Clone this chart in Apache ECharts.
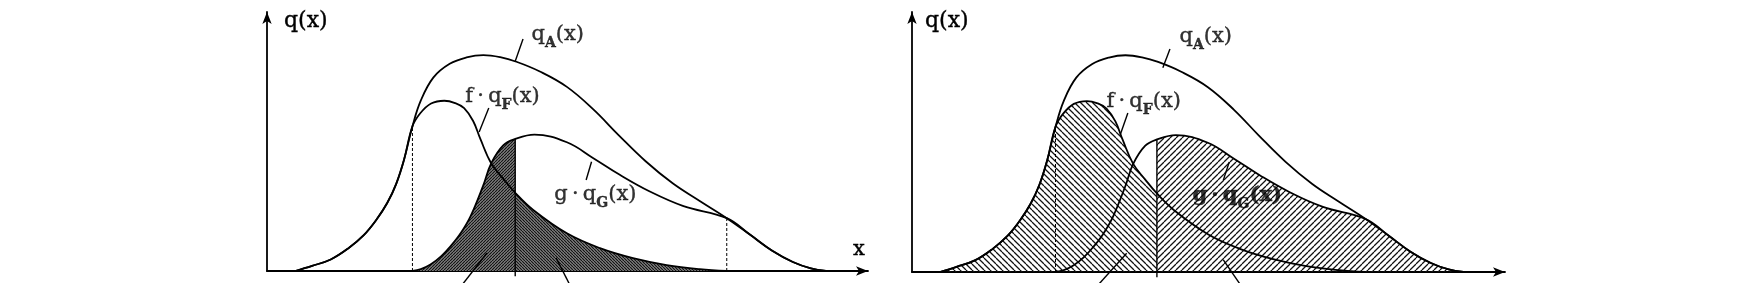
<!DOCTYPE html>
<html>
<head>
<meta charset="utf-8">
<script src="https://cdn.jsdelivr.net/npm/echarts@6/dist/echarts.min.js"></script>
<style>
  html, body { margin: 0; padding: 0; background: #fff; }
  #chart { width: 1737px; height: 283px; }
</style>
</head>
<body>
<div id="chart"></div>
<script>
// ---- data (x: 0..100 along the axis, y: 0..101 up the axis) ----
const qA = [[4.7,0],[7.5,2.0],[10.6,4.5],[13.5,8.8],[16.1,14.0],[18.2,20.0],[20.0,26.5],[21.5,34.0],[22.8,43.4],[24.2,56.4],[25.6,66.5],[27.7,75.5],[30.4,80.8],[33.2,83.3],[36.0,84.2],[38.8,83.4],[41.5,81.6],[45.4,77.8],[49.9,71.8],[54.3,63.0],[58.5,53.0],[63.0,42.8],[67.5,34.2],[72.0,27.3],[76.5,20.6],[80.4,14.1],[84.0,8.0],[87.5,3.5],[90.5,1.0],[93.0,0]];
const fqF = [[4.7,0],[7.5,2.0],[10.6,4.5],[13.5,8.8],[16.1,14.0],[18.2,20.0],[20.0,26.5],[21.5,34.0],[22.8,43.4],[24.2,56.4],[25.5,61.5],[27.3,65.3],[29.5,66.4],[31.3,65.5],[32.8,63.5],[34.3,58.5],[35.5,51.5],[37.3,42.0],[39.3,36.0],[41.3,30.5],[44.3,23.8],[49.9,14.7],[55.4,8.9],[60.9,5.0],[66.5,2.3],[72.0,0.7],[76.5,0]];
const gqG = [[24.2,0],[25.6,0.7],[27.2,2.5],[29.0,5.8],[30.6,9.8],[32.3,15.0],[33.9,21.5],[36.0,33.5],[37.3,42.0],[39.3,49.0],[41.3,51.5],[44.5,53.2],[49.9,50.2],[54.3,44.0],[58.7,37.5],[63.7,31.0],[69.3,25.3],[76.5,20.6],[80.4,14.1],[84.0,8.0],[87.5,3.5],[90.5,1.0],[93.0,0]];
const threshold = 41.3;          // decision boundary (solid line)
const cuts = [24.2, 76.5];       // dashed lines: where qG starts and qF stops

// annotation texts and anchors (data coordinates)
const labelText = ['{m|q}{s|A}{m|(x)}', '{m|f\u2009·\u2009q}{s|F}{m|(x)}', '{m|g\u2009·\u2009q}{s|G}{m|(x)}'];
const labelTextBoldG = '{mb|g\u2009·\u2009q}{sb|G}{mb|(x)}';
const labelPosL = [[44.0,92.3],[33.0,68.1],[47.8,29.9]];
const labelPosR = [[45.1,91.5],[32.8,66.3],[47.3,29.8]];
const leadersL = [[[42.6,90.5],[41.3,81.8]],[[36.9,63.6],[35.3,54.2]],[[54.0,42.6],[53.1,35.5]],[[36.6,7.0],[32.6,-5]],[[48.1,5.1],[50.3,-5]]];
const leadersR = [[[43.5,86.6],[42.3,79.3]],[[36.4,61.8],[35.1,53.2]],[[53.5,42.7],[52.5,35.7]],[[36.2,7.3],[31.4,-5]],[[52.5,4.7],[55.4,-5]]];
const axisNameX = 'x';
const axisNameY = 'q(x)';

// ---- helpers ----
const FONT = 'DejaVu Serif';
function yAt(arr, x) { const p = arr.find(d => d[0] === x); return p ? p[1] : 0; }
function hatch(size, dir, bg, fg, lw) {
  const c = document.createElement('canvas');
  c.width = c.height = size;
  const g = c.getContext('2d');
  if (bg) { g.fillStyle = bg; g.fillRect(0, 0, size, size); }
  g.strokeStyle = fg; g.lineWidth = lw;
  g.beginPath();
  for (let k = -1; k <= 1; k++) {
    if (dir > 0) { g.moveTo(k * size, size); g.lineTo(k * size + size, 0); }
    else { g.moveTo(k * size, 0); g.lineTo(k * size + size, size); }
  }
  g.stroke();
  return c;
}
const darkSlash = { image: hatch(3, 1, '#8c8c8c', '#111', 1.2), repeat: 'repeat' };
const darkBack  = { image: hatch(3, -1, '#8c8c8c', '#111', 1.2), repeat: 'repeat' };
const openBack  = { image: hatch(6, -1, null, '#111', 1.25), repeat: 'repeat' };
const openSlash = { image: hatch(6, 1, null, '#111', 1.25), repeat: 'repeat' };

const ink = { color: '#000', textBorderColor: '#000', textBorderWidth: 0.4 };
const rich = {
  m:  Object.assign({ fontFamily: FONT, fontSize: 21, lineHeight: 32 }, ink),
  s:  Object.assign({ fontFamily: FONT, fontSize: 14, fontWeight: 'bold', lineHeight: 2, verticalAlign: 'bottom' }, ink),
  mb: Object.assign({ fontFamily: FONT, fontSize: 21, fontWeight: 'bold', lineHeight: 32 }, ink),
  sb: Object.assign({ fontFamily: FONT, fontSize: 14, fontWeight: 'bold', lineHeight: 2, verticalAlign: 'bottom' }, ink)
};

const SMOOTH = 0.4;
function curve(data, idx, width) {
  return { type: 'line', data, xAxisIndex: idx, yAxisIndex: idx, smooth: SMOOTH, symbol: 'none', z: 4,
           lineStyle: { color: '#000', width: width || 1.8 }, clip: false, silent: true };
}
function area(data, idx, pattern) {
  return { type: 'line', data, xAxisIndex: idx, yAxisIndex: idx, smooth: SMOOTH, symbol: 'none', z: 2,
           lineStyle: { width: 0 }, areaStyle: { color: pattern, opacity: 1 }, silent: true };
}
function seg(data, idx, dashed) {
  return { type: 'line', data, xAxisIndex: idx, yAxisIndex: idx, symbol: 'none', z: 3, clip: false, silent: true,
           lineStyle: { color: '#000', width: dashed ? 1 : 1.4, type: dashed ? [3, 2] : 'solid' } };
}
function labels(pos, texts, idx) {
  return { type: 'scatter', xAxisIndex: idx, yAxisIndex: idx, symbolSize: 0, z: 6, silent: true,
           data: pos.map((p, i) => ({ value: p, label: { formatter: texts[i] } })),
           label: { show: true, position: 'right', distance: 0, rich } };
}
function axes(idx, withXName, yPad) {
  const line = { show: true, symbol: ['none', 'arrow'], symbolSize: [7, 12], lineStyle: { color: '#000', width: 1.8 } };
  return {
    x: { type: 'value', gridIndex: idx, min: 0, max: 100, axisLine: line, axisTick: { show: false },
         axisLabel: { show: false }, splitLine: { show: false },
         name: withXName ? axisNameX : '', nameLocation: 'end', nameGap: -9,
         nameTextStyle: Object.assign({ fontFamily: FONT, fontSize: 21, align: 'center', verticalAlign: 'bottom', padding: [0, 0, 11, 0] }, ink) },
    y: { type: 'value', gridIndex: idx, min: 0, max: 101, axisLine: line, axisTick: { show: false },
         axisLabel: { show: false }, splitLine: { show: false },
         name: axisNameY, nameLocation: 'end', nameGap: 2,
         nameTextStyle: Object.assign({ fontFamily: FONT, fontSize: 22, align: 'left', verticalAlign: 'top', padding: [0, 0, 0, yPad] }, ink) }
  };
}

const A0 = axes(0, true, 17), A1 = axes(1, false, 13);
const series = [];
// left panel: dark shading of the misclassified parts
series.push(area(gqG.filter(p => p[0] <= threshold), 0, darkSlash));
series.push(area(fqF.filter(p => p[0] >= threshold), 0, darkBack));
// right panel: hatched classes split at the threshold
series.push(area(fqF.filter(p => p[0] <= threshold), 1, openBack));
series.push(area(gqG.filter(p => p[0] >= threshold), 1, openSlash));
[0, 1].forEach(i => {
  series.push(curve(qA, i)); series.push(curve(fqF, i)); series.push(curve(gqG, i));
  series.push(seg([[cuts[0], 0], [cuts[0], yAt(qA, cuts[0])]], i, true));
  series.push(seg([[threshold, -2], [threshold, yAt(gqG, threshold)]], i, false));
});
series.push(seg([[cuts[1], 0], [cuts[1], yAt(qA, cuts[1])]], 0, true));
leadersL.forEach(l => series.push(seg(l, 0, false)));
leadersR.forEach(l => series.push(seg(l, 1, false)));
series.push(labels(labelPosL, labelText, 0));
series.push(labels(labelPosR, [labelText[0], labelText[1], labelTextBoldG], 1));

const chart = echarts.init(document.getElementById('chart'), null, { renderer: 'canvas' });
chart.setOption({
  animation: false,
  backgroundColor: '#fff',
  grid: [
    { left: 267, top: 12, width: 601, height: 259 },
    { left: 912, top: 12, width: 593, height: 260 }
  ],
  xAxis: [A0.x, A1.x],
  yAxis: [A0.y, A1.y],
  series
});
</script>
</body>
</html>
